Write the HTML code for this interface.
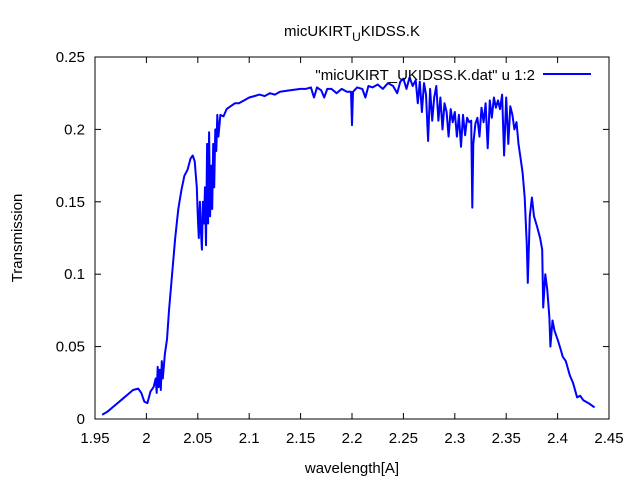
<!DOCTYPE html>
<html><head><meta charset="utf-8">
<style>
body{margin:0;background:#fff;}
svg text{font-family:"Liberation Sans",sans-serif;font-size:15px;fill:#000;}
</style></head>
<body>
<svg id="chart" width="640" height="480" xmlns="http://www.w3.org/2000/svg">
<text x="352" y="36" text-anchor="middle">micUKIRT<tspan dy="5" font-size="12">U</tspan><tspan dy="-5">KIDSS.K</tspan></text>
<text transform="translate(22,238) rotate(-90)" text-anchor="middle">Transmission</text>
<text x="352" y="473" text-anchor="middle">wavelength[A]</text>
<g id="axes"></g>
<g id="plot"></g>
<g>
<text x="535" y="80" text-anchor="end">"micUKIRT_UKIDSS.K.dat" u 1:2</text>
<line x1="543" y1="74" x2="591" y2="74" stroke="#0000ff" stroke-width="2"/>
</g>
<rect x="95" y="57" width="514" height="362" fill="none" stroke="#000" stroke-width="1"/>
</svg>
<script>
const xTicks=[1.95,2,2.05,2.1,2.15,2.2,2.25,2.3,2.35,2.4,2.45];
const xTickLabels=["1.95","2","2.05","2.1","2.15","2.2","2.25","2.3","2.35","2.4","2.45"];
const yTicks=[0,0.05,0.1,0.15,0.2,0.25];
const yTickLabels=["0","0.05","0.1","0.15","0.2","0.25"];
const wavelength=[
1.957,1.962,1.967,1.972,1.977,1.982,1.987,1.992,1.995,1.998,
2.001,2.004,2.007,2.009,2.010,2.011,2.012,2.013,2.014,2.015,
2.016,2.018,2.020,2.022,2.025,2.028,2.031,2.034,2.037,2.040,
2.043,2.045,2.047,2.049,2.050,2.051,2.052,2.053,2.054,2.055,
2.056,2.057,2.058,2.059,2.060,2.061,2.062,2.063,2.064,2.065,
2.066,2.067,2.068,2.069,2.070,2.072,2.075,2.078,2.082,2.086,
2.090,2.095,2.100,2.105,2.110,2.115,2.120,2.125,2.130,2.140,
2.150,2.155,2.160,2.163,2.166,2.170,2.173,2.176,2.180,2.185,
2.190,2.195,2.199,2.200,2.201,2.205,2.210,2.213,2.216,2.220,
2.225,2.230,2.235,2.240,2.244,2.247,2.250,2.253,2.256,2.259,
2.262,2.264,2.266,2.268,2.270,2.272,2.274,2.276,2.278,2.280,
2.282,2.284,2.286,2.288,2.290,2.292,2.294,2.296,2.298,2.300,
2.302,2.304,2.306,2.308,2.310,2.312,2.314,2.316,2.317,2.318,
2.320,2.322,2.324,2.326,2.328,2.330,2.332,2.334,2.336,2.338,
2.340,2.342,2.344,2.346,2.348,2.350,2.352,2.354,2.356,2.358,
2.360,2.362,2.364,2.366,2.368,2.370,2.371,2.373,2.375,2.377,
2.380,2.383,2.385,2.386,2.388,2.390,2.392,2.393,2.395,2.397,
2.400,2.403,2.405,2.408,2.412,2.415,2.419,2.422,2.425,2.430,
2.434,2.436];
const transmission=[
0.003,0.005,0.008,0.011,0.014,0.017,0.020,0.021,0.018,0.012,
0.011,0.019,0.022,0.028,0.018,0.036,0.022,0.034,0.020,0.040,
0.028,0.045,0.055,0.075,0.100,0.125,0.145,0.158,0.168,0.172,
0.180,0.182,0.178,0.160,0.140,0.125,0.150,0.130,0.117,0.150,
0.135,0.160,0.120,0.190,0.135,0.198,0.140,0.175,0.145,0.190,
0.160,0.200,0.185,0.210,0.195,0.210,0.209,0.214,0.216,0.218,
0.218,0.220,0.222,0.223,0.224,0.223,0.225,0.224,0.226,0.227,
0.228,0.228,0.229,0.222,0.229,0.227,0.222,0.228,0.228,0.225,
0.228,0.226,0.226,0.203,0.226,0.229,0.228,0.222,0.230,0.229,
0.231,0.228,0.232,0.230,0.225,0.233,0.235,0.228,0.236,0.230,
0.234,0.218,0.233,0.212,0.232,0.224,0.192,0.228,0.206,0.222,
0.230,0.206,0.222,0.200,0.218,0.212,0.195,0.214,0.205,0.212,
0.195,0.210,0.188,0.210,0.196,0.208,0.205,0.206,0.146,0.190,
0.204,0.208,0.195,0.215,0.205,0.218,0.187,0.220,0.208,0.222,
0.215,0.220,0.214,0.224,0.182,0.222,0.190,0.216,0.210,0.200,
0.205,0.190,0.180,0.170,0.153,0.120,0.094,0.140,0.153,0.140,
0.133,0.125,0.117,0.077,0.100,0.089,0.070,0.050,0.068,0.061,
0.055,0.048,0.043,0.040,0.030,0.025,0.015,0.016,0.013,0.011,
0.009,0.008];
const X0=95,X1=609,Y0=419,Y1=57;
function sx(v){return X0+(v-1.95)/(2.45-1.95)*(X1-X0);}
function sy(v){return Y0-(v/0.25)*(Y0-Y1);}
const NS="http://www.w3.org/2000/svg";
const axes=document.getElementById('axes');
xTicks.forEach((t,i)=>{
 const x=sx(t);
 const l1=document.createElementNS(NS,'line');
 
 
 l1.setAttribute('x1',x);l1.setAttribute('x2',x);l1.setAttribute('y1',Y0);l1.setAttribute('y2',Y0-6);l1.setAttribute('stroke','#000');
 axes.appendChild(l1);
 const l2=document.createElementNS(NS,'line');
 
 
 l2.setAttribute('x1',x);l2.setAttribute('x2',x);l2.setAttribute('y1',Y1);l2.setAttribute('y2',Y1+6);l2.setAttribute('stroke','#000');
 axes.appendChild(l2);
 const tx=document.createElementNS(NS,'text');
 
 
 tx.setAttribute('x',x);tx.setAttribute('y',443);tx.setAttribute('text-anchor','middle');
 tx.textContent=xTickLabels[i];axes.appendChild(tx);
});
yTicks.forEach((t,i)=>{
 const y=sy(t);
 const l1=document.createElementNS(NS,'line');
 
 
 l1.setAttribute('x1',X0);l1.setAttribute('x2',X0+6);l1.setAttribute('y1',y);l1.setAttribute('y2',y);l1.setAttribute('stroke','#000');
 axes.appendChild(l1);
 const l2=document.createElementNS(NS,'line');
 
 
 l2.setAttribute('x1',X1);l2.setAttribute('x2',X1-6);l2.setAttribute('y1',y);l2.setAttribute('y2',y);l2.setAttribute('stroke','#000');
 axes.appendChild(l2);
 const tx=document.createElementNS(NS,'text');
 
 
 tx.setAttribute('x',85);tx.setAttribute('y',y+5);tx.setAttribute('text-anchor','end');
 tx.textContent=yTickLabels[i];axes.appendChild(tx);
});
const n=Math.min(wavelength.length,transmission.length);
const pts=[];
for(let i=0;i<n;i++){pts.push(sx(wavelength[i]).toFixed(1)+','+sy(transmission[i]).toFixed(1));}
const pl=document.createElementNS(NS,'polyline');


pl.setAttribute('points',pts.join(' '));pl.setAttribute('fill','none');pl.setAttribute('stroke','#0000ff');pl.setAttribute('stroke-width','2');pl.setAttribute('stroke-linejoin','round');
document.getElementById('plot').appendChild(pl);
</script>
</body></html>
